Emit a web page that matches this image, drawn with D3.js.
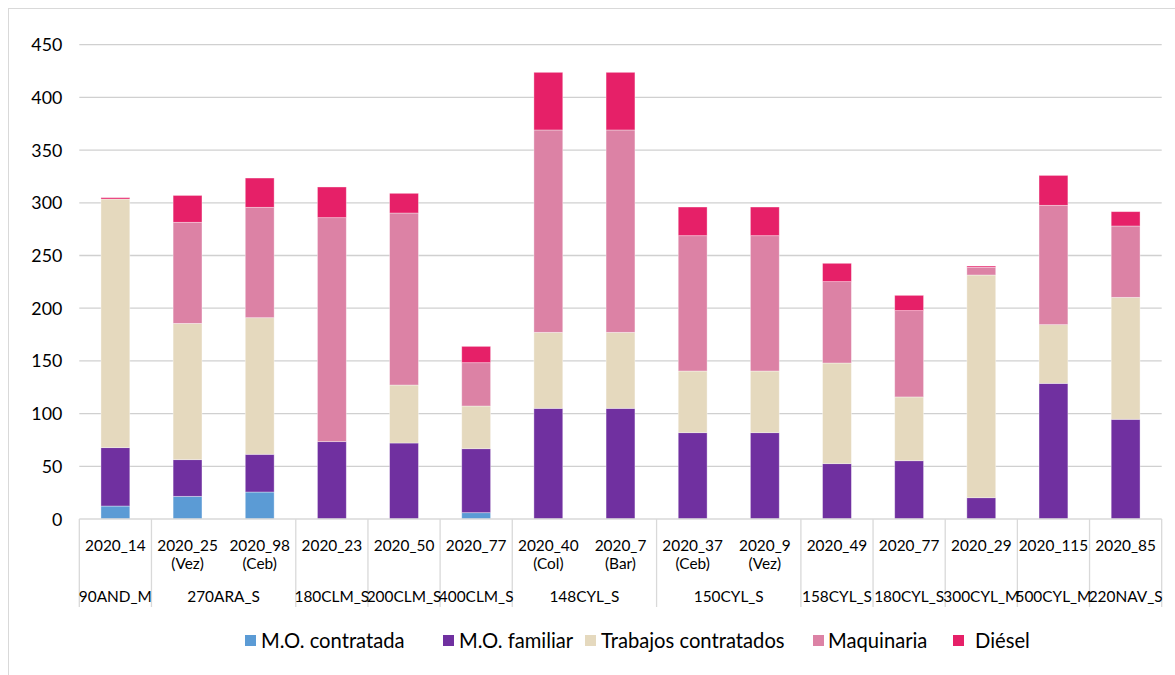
<!DOCTYPE html>
<html>
<head>
<meta charset="utf-8">
<script src="https://cdn.jsdelivr.net/npm/d3@7"></script>
<style>
  html, body { margin: 0; padding: 0; background: #fff; }
  text { font-family: Lato, "Noto Sans", sans-serif; fill: #000; }
</style>
</head>
<body>
<svg id="chart" width="1175" height="675"></svg>
<script>
// ---- data ----
const categories = ["2020_14","2020_25","2020_98","2020_23","2020_50","2020_77","2020_40","2020_7","2020_37","2020_9","2020_49","2020_77","2020_29","2020_115","2020_85"];
const subLabels = ["","(Vez)","(Ceb)","","","","(Col)","(Bar)","(Ceb)","(Vez)","","","","",""];
const groups = ["90AND_M","270ARA_S","180CLM_S","200CLM_S","400CLM_S","148CYL_S","150CYL_S","158CYL_S","180CYL_S","300CYL_M","500CYL_M","220NAV_S"];
const groupSizes = [1,2,1,1,1,2,2,1,1,1,1,1];
const seriesNames = ["M.O. contratada","M.O. familiar","Trabajos contratados","Maquinaria","Diésel"];
const moContratada = [12.3, 21.5, 25.6, 0, 0, 6.0, 0, 0, 0, 0, 0, 0, 0, 0, 0];
const moFamiliar   = [55.4, 34.8, 35.8, 73.4, 72.1, 60.7, 105.0, 105.0, 81.9, 81.9, 52.5, 55.3, 20.2, 128.7, 94.6];
const trabajos     = [235.9, 129.3, 129.6, 0, 55.0, 40.5, 72.1, 72.1, 58.5, 58.5, 95.5, 60.5, 211.3, 55.7, 115.7];
const maquinaria   = [0, 95.9, 104.7, 212.5, 163.2, 41.1, 192.0, 192.0, 128.4, 128.4, 77.2, 81.9, 7.3, 113.2, 67.7];
const diesel       = [1.3, 25.5, 27.8, 29.1, 18.7, 15.5, 54.7, 54.7, 27.2, 27.2, 17.4, 14.5, 1.2, 28.4, 13.6];
const yTicks = [0,50,100,150,200,250,300,350,400,450];
const colors = ["#5B9BD5","#7030A0","#E5D9BE","#DC82A5","#E62068"];

// ---- layout ----
const svg = d3.select("#chart");
const plotLeft = 79.3, plotRight = 1161.7, plotTop = 44.7, plotBottom = 519;

// frame
svg.append("rect").attr("x", 8.5).attr("y", 8.5).attr("width", 1200).attr("height", 700)
  .attr("fill", "none").attr("stroke", "#d9d9d9").attr("stroke-width", 1);

const x = d3.scaleBand().domain(d3.range(categories.length)).range([plotLeft, plotRight])
  .paddingInner(0.6).paddingOuter(0.3);
const y = d3.scaleLinear().domain([0, 450]).range([plotBottom, plotTop]);

// gridlines
svg.append("g").selectAll("line").data(yTicks.filter(d => d > 0)).join("line")
  .attr("x1", plotLeft).attr("x2", plotRight)
  .attr("y1", d => y(d)).attr("y2", d => y(d))
  .attr("stroke", "#d0d0d0").attr("stroke-width", 1.3);

// y axis labels
const yAxis = d3.axisLeft(y).tickValues(yTicks).tickSize(0).tickPadding(0);
const yg = svg.append("g").attr("transform", `translate(${plotLeft - 17},0)`).call(yAxis);
yg.select(".domain").remove();
yg.selectAll("text").attr("font-size", 17.8).attr("font-family", "Lato, sans-serif").attr("fill", "#000").attr("dy", "0.34em");

// stacked bars
const table = categories.map((c, i) => ({
  i, "M.O. contratada": moContratada[i], "M.O. familiar": moFamiliar[i],
  "Trabajos contratados": trabajos[i], "Maquinaria": maquinaria[i], "Diésel": diesel[i]
}));
const stack = d3.stack().keys(seriesNames)(table);
svg.append("g").selectAll("g").data(stack).join("g")
  .attr("fill", (d, k) => colors[k])
  .selectAll("rect").data(d => d.filter(p => p[1] - p[0] > 0)).join("rect")
  .attr("x", d => x(d.data.i))
  .attr("width", x.bandwidth())
  .attr("y", d => y(d[1]))
  .attr("height", d => y(d[0]) - y(d[1]))
  .attr("stroke", "rgba(255,255,255,0.45)").attr("stroke-width", 0.8);

// x axis line
svg.append("line").attr("x1", plotLeft).attr("x2", plotRight).attr("y1", plotBottom).attr("y2", plotBottom)
  .attr("stroke", "#d9d9d9").attr("stroke-width", 1.3);

// group boundaries
const step = x.step();
const starts = [];
let acc = 0;
groupSizes.forEach(s => { starts.push(acc); acc += s; });
const boundaries = starts.concat([categories.length]);
const bx = d => x(0) - step * 0.3 + d * step;
svg.append("g").selectAll("line").data(boundaries).join("line")
  .attr("x1", d => bx(d)).attr("x2", d => bx(d))
  .attr("y1", plotBottom).attr("y2", 607)
  .attr("stroke", "#d9d9d9").attr("stroke-width", 1.3);

// category labels
const cx = i => x(i) + x.bandwidth() / 2;
svg.append("g").selectAll("text").data(categories).join("text")
  .attr("x", (d, i) => cx(i)).attr("y", 551)
  .attr("text-anchor", "middle").attr("font-size", 15.4).text(d => d);
svg.append("g").selectAll("text").data(subLabels).join("text")
  .attr("x", (d, i) => cx(i)).attr("y", 569)
  .attr("text-anchor", "middle").attr("font-size", 15.4).text(d => d);
svg.append("g").selectAll("text").data(groups).join("text")
  .attr("x", (d, g) => bx(starts[g] + groupSizes[g] / 2))
  .attr("y", 602)
  .attr("text-anchor", "middle").attr("font-size", 15.4).text(d => d);

// legend
const legendX = [245, 443, 585, 813, 953];
const legendTextX = [261, 459, 601, 828, 975];
const lg = svg.append("g");
seriesNames.forEach((name, k) => {
  lg.append("rect").attr("x", legendX[k]).attr("y", 635).attr("width", 11).attr("height", 11).attr("fill", colors[k]);
  lg.append("text").attr("x", legendTextX[k]).attr("y", 648).attr("font-size", 20.2).text(name);
});
</script>
</body>
</html>
